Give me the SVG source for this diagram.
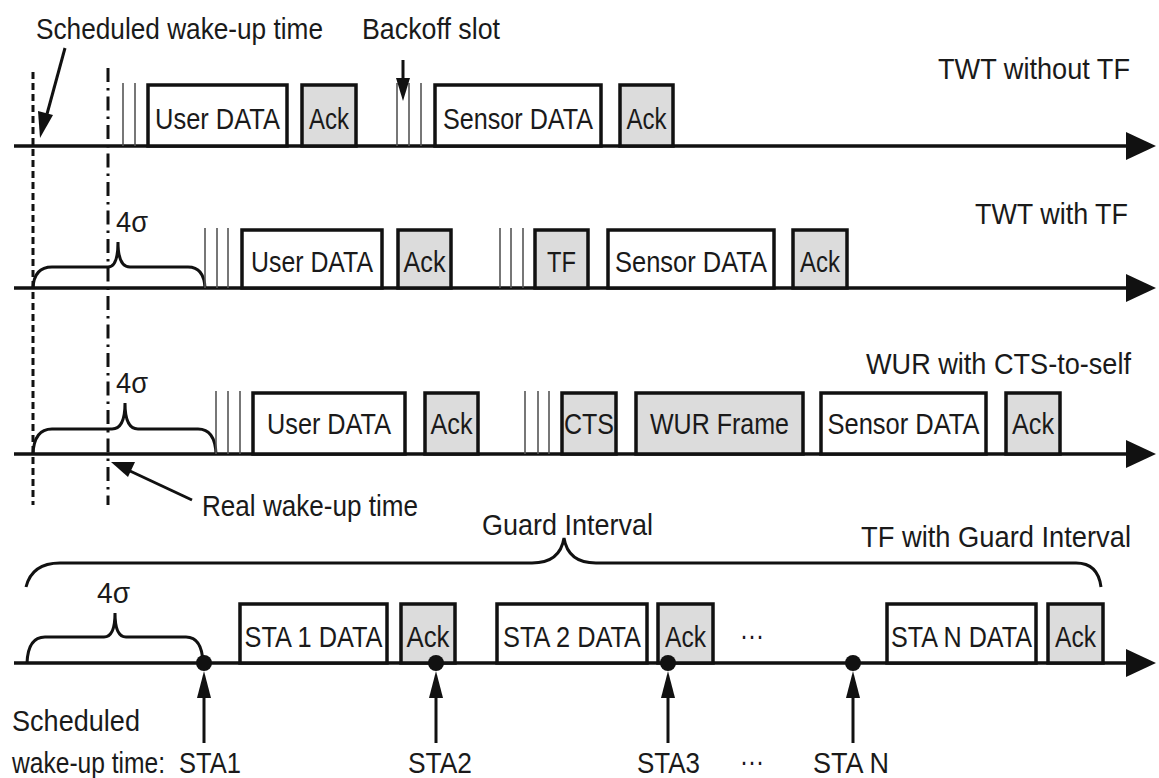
<svg xmlns="http://www.w3.org/2000/svg" width="1159" height="778" viewBox="0 0 1159 778">
<style>
text{font-family:"Liberation Sans",Arial,sans-serif;font-size:30px;fill:#1a1a1a}
.lbl{text-anchor:middle}
.box{fill:#fff;stroke:#111;stroke-width:3.5}
.ack{fill:#dcdcdc;stroke:#111;stroke-width:3.5}
.axis{stroke:#111;stroke-width:3.5;fill:none}
.bo{stroke:#555;stroke-width:1.6}
.brace{fill:none;stroke:#111;stroke-width:3}
.arr{stroke:#111;stroke-width:3;fill:none}
.head{fill:#111}
</style>
<rect width="1159" height="778" fill="#fff"/>

<!-- reference vertical lines -->
<g id="timelines">
<line x1="33" y1="72" x2="33" y2="505" stroke="#111" stroke-width="3" stroke-dasharray="7 4"/>
<line x1="108" y1="68" x2="108" y2="505" stroke="#111" stroke-width="3" stroke-dasharray="14 6 2.5 6"/>
</g>

<!-- axes -->
<g id="axes">
<line class="axis" x1="14" y1="146" x2="1130" y2="146"/>
<polygon class="head" points="1126,132 1156,146 1126,160"/>
<line class="axis" x1="14" y1="288" x2="1130" y2="288"/>
<polygon class="head" points="1126,274 1156,288 1126,302"/>
<line class="axis" x1="14" y1="454" x2="1130" y2="454"/>
<polygon class="head" points="1126,440 1156,454 1126,468"/>
<line class="axis" x1="14" y1="663" x2="1130" y2="663"/>
<polygon class="head" points="1126,649 1156,663 1126,677"/>
</g>

<!-- row 1 -->
<g id="row1">
<text x="938" y="79" textLength="192" lengthAdjust="spacingAndGlyphs">TWT without TF</text>
<g id="r1-backoff1"><line class="bo" x1="123" y1="83" x2="123" y2="146"/><line class="bo" x1="135" y1="83" x2="135" y2="146"/></g>
<g id="r1-user"><rect class="box" x="148" y="85" width="139" height="61"/><text class="lbl" x="217.5" y="129" textLength="125" lengthAdjust="spacingAndGlyphs">User DATA</text></g>
<g id="r1-ack1"><rect class="ack" x="302" y="85" width="54" height="61"/><text class="lbl" x="329" y="129" textLength="40" lengthAdjust="spacingAndGlyphs">Ack</text></g>
<g id="r1-backoff2"><line class="bo" x1="397" y1="83" x2="397" y2="146"/><line class="bo" x1="409" y1="83" x2="409" y2="146"/><line class="bo" x1="421" y1="83" x2="421" y2="146"/></g>
<g id="r1-sensor"><rect class="box" x="435" y="85" width="166" height="61"/><text class="lbl" x="518" y="129" textLength="150" lengthAdjust="spacingAndGlyphs">Sensor DATA</text></g>
<g id="r1-ack2"><rect class="ack" x="620" y="85" width="53" height="61"/><text class="lbl" x="646.5" y="129" textLength="40" lengthAdjust="spacingAndGlyphs">Ack</text></g>
</g>

<!-- row 2 -->
<g id="row2">
<text x="975" y="224" textLength="153" lengthAdjust="spacingAndGlyphs">TWT with TF</text>
<g id="r2-brace"><path class="brace" d="M33,288 Q34,267 52,267 L108,267 Q118,267 118,242 Q118,267 130,267 L188,267 Q204,267 205,288"/><text x="116" y="232" textLength="32" lengthAdjust="spacingAndGlyphs">4σ</text></g>
<g id="r2-backoff1"><line class="bo" x1="205" y1="228" x2="205" y2="288"/><line class="bo" x1="217" y1="228" x2="217" y2="288"/><line class="bo" x1="228" y1="228" x2="228" y2="288"/></g>
<g id="r2-user"><rect class="box" x="242" y="230" width="140" height="58"/><text class="lbl" x="312" y="272" textLength="122" lengthAdjust="spacingAndGlyphs">User DATA</text></g>
<g id="r2-ack1"><rect class="ack" x="398" y="230" width="53" height="58"/><text class="lbl" x="424.5" y="272" textLength="42" lengthAdjust="spacingAndGlyphs">Ack</text></g>
<g id="r2-backoff2"><line class="bo" x1="500" y1="228" x2="500" y2="288"/><line class="bo" x1="511" y1="228" x2="511" y2="288"/><line class="bo" x1="523" y1="228" x2="523" y2="288"/></g>
<g id="r2-tf"><rect class="ack" x="535" y="230" width="53" height="58"/><text class="lbl" x="561.5" y="272" textLength="29" lengthAdjust="spacingAndGlyphs">TF</text></g>
<g id="r2-sensor"><rect class="box" x="608" y="230" width="166" height="58"/><text class="lbl" x="691" y="272" textLength="152" lengthAdjust="spacingAndGlyphs">Sensor DATA</text></g>
<g id="r2-ack2"><rect class="ack" x="793" y="230" width="54" height="58"/><text class="lbl" x="820" y="272" textLength="40" lengthAdjust="spacingAndGlyphs">Ack</text></g>
</g>

<!-- row 3 -->
<g id="row3">
<text x="866" y="374" textLength="265" lengthAdjust="spacingAndGlyphs">WUR with CTS-to-self</text>
<g id="r3-brace"><path class="brace" d="M33,454 Q34,429 52,429 L112,429 Q125,429 125,403 Q125,429 138,429 L198,429 Q215,429 216,454"/><text x="116" y="393" textLength="32" lengthAdjust="spacingAndGlyphs">4σ</text></g>
<g id="r3-backoff1"><line class="bo" x1="216" y1="391" x2="216" y2="454"/><line class="bo" x1="228" y1="391" x2="228" y2="454"/><line class="bo" x1="240" y1="391" x2="240" y2="454"/></g>
<g id="r3-user"><rect class="box" x="253" y="393" width="152" height="61"/><text class="lbl" x="329" y="434" textLength="124" lengthAdjust="spacingAndGlyphs">User DATA</text></g>
<g id="r3-ack1"><rect class="ack" x="425" y="393" width="53" height="61"/><text class="lbl" x="451.5" y="434" textLength="42" lengthAdjust="spacingAndGlyphs">Ack</text></g>
<g id="r3-backoff2"><line class="bo" x1="525" y1="391" x2="525" y2="454"/><line class="bo" x1="538" y1="391" x2="538" y2="454"/><line class="bo" x1="549" y1="391" x2="549" y2="454"/></g>
<g id="r3-cts"><rect class="ack" x="562" y="393" width="54" height="61"/><text class="lbl" x="589" y="434" textLength="50" lengthAdjust="spacingAndGlyphs">CTS</text></g>
<g id="r3-wur"><rect class="ack" x="636" y="393" width="167" height="61"/><text class="lbl" x="719.5" y="434" textLength="139" lengthAdjust="spacingAndGlyphs">WUR Frame</text></g>
<g id="r3-sensor"><rect class="box" x="821" y="393" width="165" height="61"/><text class="lbl" x="903.5" y="434" textLength="152" lengthAdjust="spacingAndGlyphs">Sensor DATA</text></g>
<g id="r3-ack2"><rect class="ack" x="1006" y="393" width="54" height="61"/><text class="lbl" x="1033" y="434" textLength="42" lengthAdjust="spacingAndGlyphs">Ack</text></g>
</g>

<!-- row 4 -->
<g id="row4">
<g id="guard-brace"><path class="brace" d="M26,587 Q32,563 60,563 L532,563 Q560,563 564,538 Q568,563 596,563 L1076,563 Q1098,563 1101,587"/><text x="482" y="535" textLength="171" lengthAdjust="spacingAndGlyphs">Guard Interval</text></g>
<text x="861" y="547" textLength="270" lengthAdjust="spacingAndGlyphs">TF with Guard Interval</text>
<g id="r4-brace"><path class="brace" d="M27,663 Q28,637 45,637 L104,637 Q115,637 115,613 Q115,637 126,637 L186,637 Q202,637 203,663"/><text x="97" y="603" textLength="33" lengthAdjust="spacingAndGlyphs">4σ</text></g>
<g id="r4-sta1"><rect class="box" x="240" y="604" width="147" height="59"/><text class="lbl" x="313.5" y="647" textLength="138" lengthAdjust="spacingAndGlyphs">STA 1 DATA</text></g>
<g id="r4-ack1"><rect class="ack" x="401" y="604" width="54" height="59"/><text class="lbl" x="428" y="647" textLength="43" lengthAdjust="spacingAndGlyphs">Ack</text></g>
<g id="r4-sta2"><rect class="box" x="497" y="604" width="150" height="59"/><text class="lbl" x="572" y="647" textLength="138" lengthAdjust="spacingAndGlyphs">STA 2 DATA</text></g>
<g id="r4-ack2"><rect class="ack" x="658" y="604" width="55" height="59"/><text class="lbl" x="685.5" y="647" textLength="41" lengthAdjust="spacingAndGlyphs">Ack</text></g>
<text class="lbl" x="752" y="645" textLength="24" lengthAdjust="spacingAndGlyphs">···</text>
<g id="r4-staN"><rect class="box" x="887" y="604" width="149" height="59"/><text class="lbl" x="961.5" y="647" textLength="141" lengthAdjust="spacingAndGlyphs">STA N DATA</text></g>
<g id="r4-ackN"><rect class="ack" x="1048" y="604" width="55" height="59"/><text class="lbl" x="1075.5" y="647" textLength="41" lengthAdjust="spacingAndGlyphs">Ack</text></g>
<g id="dots" fill="#111">
<circle cx="204" cy="663" r="8"/><circle cx="436" cy="663" r="8"/><circle cx="668" cy="663" r="8"/><circle cx="853" cy="663" r="8"/>
</g>
<text x="12" y="731" textLength="128" lengthAdjust="spacingAndGlyphs">Scheduled</text>
<text transform="translate(12,773) scale(0.82,1)">wake-up time:</text>
<text transform="translate(179,773) scale(0.85,1)">STA1</text>
<text x="408" y="773" textLength="64" lengthAdjust="spacingAndGlyphs">STA2</text>
<text x="637" y="773" textLength="63" lengthAdjust="spacingAndGlyphs">STA3</text>
<text class="lbl" x="752" y="771" textLength="24" lengthAdjust="spacingAndGlyphs">···</text>
<text x="813" y="773" textLength="76" lengthAdjust="spacingAndGlyphs">STA N</text>
</g>

<!-- annotation texts -->
<g id="annotations">
<text x="36" y="39" textLength="287" lengthAdjust="spacingAndGlyphs">Scheduled wake-up time</text>
<text x="362" y="39" textLength="138" lengthAdjust="spacingAndGlyphs">Backoff slot</text>
<text x="202" y="516" textLength="216" lengthAdjust="spacingAndGlyphs">Real wake-up time</text>
</g>

<!-- connectors -->
<g id="connectors">
<line class="arr" x1="65" y1="48" x2="47" y2="114"/>
<polygon class="head" points="40,138 38,111 53,115"/>
<line class="arr" x1="403" y1="60" x2="403" y2="80"/>
<polygon class="head" points="403,101 396,78 410,78"/>
<line class="arr" x1="192" y1="500" x2="130" y2="471"/>
<polygon class="head" points="111,462 135,462 128,477"/>
<line class="arr" x1="204" y1="743" x2="204" y2="695"/>
<polygon class="head" points="204,671 197,698 211,698"/>
<line class="arr" x1="436" y1="743" x2="436" y2="695"/>
<polygon class="head" points="436,671 429,698 443,698"/>
<line class="arr" x1="668" y1="743" x2="668" y2="695"/>
<polygon class="head" points="668,671 661,698 675,698"/>
<line class="arr" x1="853" y1="743" x2="853" y2="695"/>
<polygon class="head" points="853,671 846,698 860,698"/>
</g>
</svg>
